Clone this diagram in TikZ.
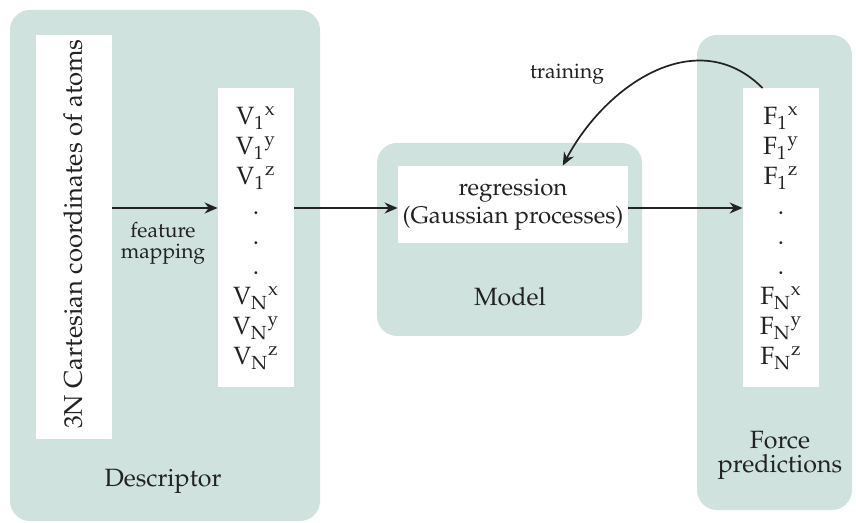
\documentclass[tikz,border=0pt]{standalone}
\usepackage[T1]{fontenc}
\usepackage{mathpazo}
\usepackage{tikz}
\usetikzlibrary{arrows.meta,positioning}
\definecolor{PanelFill}{HTML}{CFE2DD}
\definecolor{InkCol}{HTML}{222222}
\newcommand{\Vc}[2]{V\textsubscript{#1}\textsuperscript{#2}}
\newcommand{\Fc}[2]{F\textsubscript{#1}\textsuperscript{#2}}

\begin{document}
\begin{tikzpicture}[x=0.5pt,y=-0.5pt,
  panel/.style={fill=PanelFill,rounded corners=10pt,inner sep=0pt},
  whitebox/.style={fill=white,inner sep=0pt,align=center,text=InkCol,font=\fontsize{12.5}{15}\selectfont},
  lbl/.style={text=InkCol,align=center,font=\fontsize{12.5}{12}\selectfont},
  small/.style={text=InkCol,align=center,font=\fontsize{10.5}{10.5}\selectfont},
  arr/.style={-{Stealth[length=6.5pt,width=5.5pt]},InkCol,line width=0.85pt}]
  \useasboundingbox (0,0) rectangle (856,523);
  \node[panel,minimum width=155pt,minimum height=255.5pt] (desc) at (165,265.5) {};
  \node[panel,minimum width=132.5pt,minimum height=96.5pt] (model) at (509.5,239.5) {};
  \node[panel,minimum width=77.5pt,minimum height=237.5pt] (force) at (774.5,272.5) {};
  \node[whitebox,minimum width=38pt,minimum height=202pt] (cart) at (74,237) {};
  \node[rotate=90,text=InkCol,font=\fontsize{12.8}{15}\selectfont] (carttxt) at (73,234)
    {3N Cartesian coordinates of atoms};
  \node[whitebox,minimum width=38pt,minimum height=149.5pt] (vvec) at (256,238)
    {\Vc{1}{x}\\ \Vc{1}{y}\\ \Vc{1}{z}\\ .\\ .\\ .\\ \Vc{N}{x}\\ \Vc{N}{y}\\ \Vc{N}{z}};
  \node[whitebox,minimum width=115pt,minimum height=38.5pt,font=\fontsize{12}{14}\selectfont] (reg) at (513,204.5)
    {regression\\ (Gaussian processes)};
  \node[whitebox,minimum width=38pt,minimum height=149.5pt] (fvec) at (781,238)
    {\Fc{1}{x}\\ \Fc{1}{y}\\ \Fc{1}{z}\\ .\\ .\\ .\\ \Fc{N}{x}\\ \Fc{N}{y}\\ \Fc{N}{z}};
  \node[lbl] (desclbl) at (163,481) {Descriptor};
  \node[lbl] (modellbl) at (510,297) {Model};
  \node[lbl] (forcelbl) at (780,455) {Force\\ predictions};
  \node[small] (featlbl) at (163,243) {feature\\ mapping};
  \node[small] (trainlbl) at (567,74) {training};
  \coordinate (flow) at (0,208);
  \draw[arr] (cart.east |- flow) -- (vvec.west |- flow);
  \draw[arr] (vvec.east |- flow) -- (reg.west |- flow);
  \draw[arr] (reg.east |- flow) -- (fvec.west |- flow);
  \draw[arr] (fvec.97) to[out=135,in=62,looseness=1.1] (reg.38);
\end{tikzpicture}
\end{document}
